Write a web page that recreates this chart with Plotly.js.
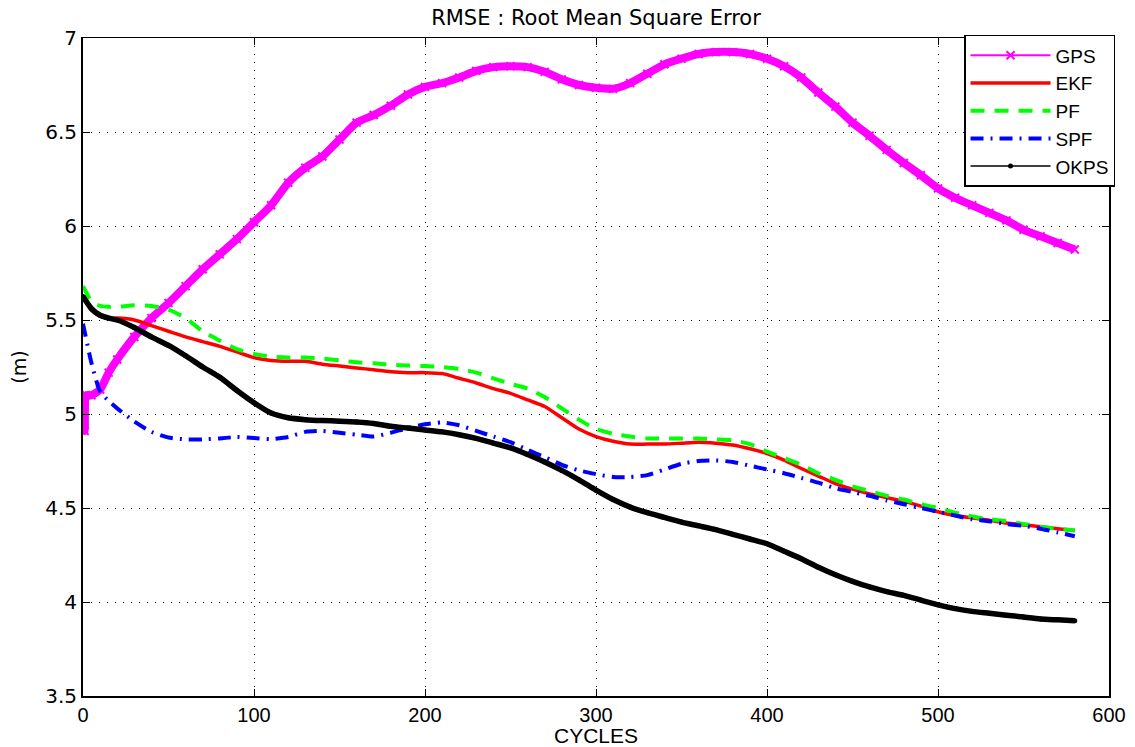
<!DOCTYPE html>
<html>
<head>
<meta charset="utf-8">
<script src="https://cdn.plot.ly/plotly-3.0.1.min.js"></script>
<style>html,body{margin:0;padding:0;background:#fff;}#chart{width:1135px;height:747px;}</style>
</head>
<body>
<div id="chart"></div>
<script>
// ---- data ----
const cycles = [0,5,10,15,20,30,40,50,60,70,80,90,100,110,120,130,140,150,160,170,180,190,200,210,220,230,240,250,260,270,280,290,300,310,320,330,340,350,360,370,380,390,400,410,420,430,440,450,460,470,480,490,500,510,520,530,540,550,560,570,580];

const gpsCycles = [0,1,2,5,10,15,20,30,40,50,60,70,80,90,100,110,120,130,140,150,160,170,180,190,200,210,220,230,240,250,260,270,280,290,300,310,320,330,340,350,360,370,380,390,400,410,420,430,440,450,460,470,480,490,500,510,520,530,540,550,560,570,580];
const gps = [5.00,4.91,5.10,5.10,5.13,5.22,5.29,5.41,5.51,5.59,5.68,5.77,5.85,5.93,6.02,6.11,6.23,6.31,6.37,6.46,6.55,6.59,6.64,6.70,6.74,6.76,6.79,6.825,6.845,6.85,6.845,6.82,6.78,6.75,6.735,6.73,6.76,6.81,6.86,6.89,6.915,6.925,6.925,6.915,6.89,6.85,6.79,6.71,6.635,6.55,6.48,6.405,6.335,6.27,6.20,6.15,6.11,6.07,6.03,5.98,5.945,5.91,5.875];

const ekf = [5.62,5.55,5.52,5.51,5.51,5.50,5.47,5.44,5.41,5.385,5.36,5.33,5.30,5.285,5.28,5.28,5.265,5.255,5.245,5.235,5.225,5.22,5.22,5.215,5.19,5.165,5.135,5.11,5.075,5.04,4.98,4.92,4.88,4.855,4.84,4.84,4.84,4.845,4.85,4.845,4.835,4.815,4.79,4.755,4.71,4.67,4.63,4.60,4.575,4.555,4.535,4.51,4.48,4.46,4.447,4.435,4.42,4.41,4.40,4.39,4.38];

const pf = [5.68,5.60,5.575,5.57,5.57,5.578,5.575,5.555,5.51,5.44,5.39,5.345,5.32,5.305,5.30,5.30,5.295,5.285,5.275,5.27,5.262,5.258,5.255,5.25,5.24,5.22,5.19,5.16,5.135,5.09,5.03,4.97,4.92,4.895,4.88,4.87,4.87,4.87,4.87,4.865,4.86,4.84,4.80,4.765,4.73,4.685,4.65,4.615,4.59,4.565,4.545,4.52,4.50,4.475,4.455,4.44,4.43,4.415,4.40,4.39,4.38];

const spf = [5.48,5.27,5.12,5.07,5.03,4.96,4.905,4.875,4.865,4.865,4.87,4.878,4.872,4.867,4.878,4.905,4.91,4.90,4.89,4.88,4.90,4.925,4.945,4.955,4.94,4.91,4.88,4.85,4.81,4.77,4.73,4.70,4.68,4.665,4.665,4.675,4.705,4.735,4.75,4.753,4.745,4.725,4.705,4.685,4.66,4.635,4.605,4.585,4.565,4.54,4.52,4.50,4.48,4.46,4.44,4.43,4.415,4.405,4.39,4.37,4.35];

const okps = [5.625,5.56,5.525,5.51,5.50,5.46,5.41,5.365,5.31,5.25,5.195,5.125,5.06,5.005,4.98,4.97,4.965,4.962,4.958,4.95,4.935,4.925,4.915,4.905,4.89,4.87,4.845,4.82,4.785,4.745,4.70,4.65,4.595,4.545,4.505,4.475,4.45,4.425,4.405,4.385,4.36,4.335,4.31,4.27,4.23,4.185,4.145,4.11,4.08,4.055,4.035,4.01,3.985,3.965,3.95,3.94,3.93,3.92,3.91,3.905,3.90];

const xTicks = [0,100,200,300,400,500,600];
const yTicks = [3.5,4,4.5,5,5.5,6,6.5,7];

// ---- traces ----
const sp = {shape:'spline', smoothing:0.6};
const traces = [
  {x:gpsCycles, y:gps, mode:'lines', showlegend:false, hoverinfo:'skip',
   line:Object.assign({color:'#ff00ff', width:8}, sp)},
  {x:gpsCycles, y:gps, name:'GPS', mode:'lines+markers',
   line:Object.assign({color:'#ff00ff', width:2}, sp),
   marker:{symbol:'x-thin', size:8, color:'#ff00ff', line:{color:'#ff00ff', width:2}}},
  {x:cycles, y:ekf, name:'EKF', mode:'lines',
   line:Object.assign({color:'#ff0000', width:3.5}, sp)},
  {x:cycles, y:pf, name:'PF', mode:'lines',
   line:Object.assign({color:'#00ff00', width:4, dash:'14px,10px'}, sp)},
  {x:cycles, y:spf, name:'SPF', mode:'lines',
   line:Object.assign({color:'#0000ff', width:4, dash:'13px,7px,2px,7px'}, sp)},
  {x:cycles, y:okps, mode:'lines', showlegend:false, hoverinfo:'skip',
   line:Object.assign({color:'#000000', width:5.5}, sp)},
  {x:cycles, y:okps, name:'OKPS', mode:'lines+markers',
   line:Object.assign({color:'#000000', width:1.5}, sp),
   marker:{symbol:'circle', size:5, color:'#000000'}}
];

const wide = '"DejaVu Sans",Verdana,sans-serif';
const lib = '"Liberation Sans",Arial,Helvetica,sans-serif';

const layout = {
  width:1135, height:747,
  margin:{l:83, r:26, t:38, b:51, pad:0},
  paper_bgcolor:'#fff', plot_bgcolor:'#fff',
  font:{family:lib, color:'#000'},
  title:{text:'RMSE : Root Mean Square Error', font:{family:wide, size:21, color:'#000'},
         x:0.5, xref:'paper', y:0.976, yanchor:'middle'},
  xaxis:{range:[0,600], tickvals:xTicks, ticktext:xTicks.map(String), ticks:'inside', ticklen:7, tickcolor:'#000',
         showline:true, linecolor:'#000', linewidth:1.5, mirror:'ticks', zeroline:false,
         showgrid:true, gridcolor:'#000', gridwidth:1, griddash:'1px,7px',
         tickfont:{family:lib, size:20, color:'#000'},
         title:{text:'CYCLES', font:{family:lib, size:21, color:'#000'}, standoff:3}},
  yaxis:{range:[3.5,7], tickvals:yTicks, ticktext:yTicks.map(String), ticks:'inside', ticklen:7, tickcolor:'#000',
         showline:true, linecolor:'#000', linewidth:2, mirror:'ticks', zeroline:false,
         showgrid:true, gridcolor:'#000', gridwidth:1, griddash:'1px,7px',
         tickfont:{family:wide, size:20, color:'#000'},
         title:{text:'(m)', font:{family:wide, size:19, color:'#000'}, standoff:14}},
  legend:{x:0.8587, y:1.0046, xanchor:'left', yanchor:'top', bgcolor:'#fff', bordercolor:'#000', borderwidth:1.5,
          font:{family:lib, size:19, color:'#000'}, tracegroupgap:0, itemwidth:80},
  showlegend:true
};

Plotly.newPlot('chart', traces, layout, {staticPlot:true, displayModeBar:false});
</script>
</body>
</html>
